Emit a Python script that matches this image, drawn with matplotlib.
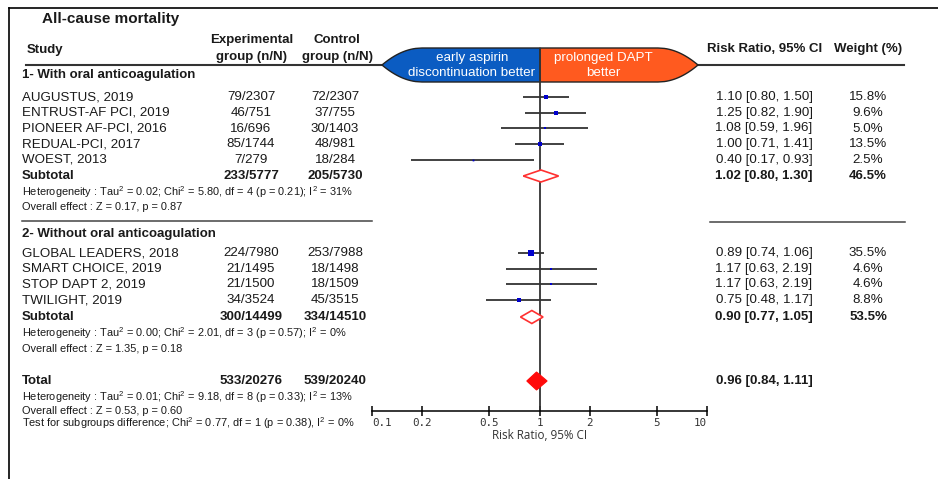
import numpy as np
import matplotlib
matplotlib.use('Agg')
import matplotlib.pyplot as plt
from matplotlib.ticker import NullLocator

plt.rcParams['font.family'] = 'Liberation Sans'
plt.rcParams['mathtext.fontset'] = 'custom'
plt.rcParams['mathtext.rm'] = 'Liberation Sans'
plt.rcParams['mathtext.it'] = 'Liberation Sans:italic'
plt.rcParams['mathtext.bf'] = 'Liberation Sans:bold'

# data
studies1 = ['AUGUSTUS, 2019', 'ENTRUST-AF PCI, 2019', 'PIONEER AF-PCI, 2016',
            'REDUAL-PCI, 2017', 'WOEST, 2013']
exp1 = ['79/2307', '46/751', '16/696', '85/1744', '7/279']
ctl1 = ['72/2307', '37/755', '30/1403', '48/981', '18/284']
rr1 = [1.10, 1.25, 1.08, 1.00, 0.40]
lo1 = [0.80, 0.82, 0.59, 0.71, 0.17]
hi1 = [1.50, 1.90, 1.96, 1.41, 0.93]
w1 = [15.8, 9.6, 5.0, 13.5, 2.5]

studies2 = ['GLOBAL LEADERS, 2018', 'SMART CHOICE, 2019', 'STOP DAPT 2, 2019',
            'TWILIGHT, 2019']
exp2 = ['224/7980', '21/1495', '21/1500', '34/3524']
ctl2 = ['253/7988', '18/1498', '18/1509', '45/3515']
rr2 = [0.89, 1.17, 1.17, 0.75]
lo2 = [0.74, 0.63, 0.63, 0.48]
hi2 = [1.06, 2.19, 2.19, 1.17]
w2 = [35.5, 4.6, 4.6, 8.8]

# subtotal 1, subtotal 2, total
pooled_exp = ['233/5777', '300/14499', '533/20276']
pooled_ctl = ['205/5730', '334/14510', '539/20240']
pooled_rr = [1.02, 0.90, 0.96]
pooled_lo = [0.80, 0.77, 0.84]
pooled_hi = [1.30, 1.05, 1.11]
pooled_w = ['46.5%', '53.5%', '']

het_texts = [
    'Heterogeneity : Tau$^2$ = 0.02; Chi$^2$ = 5.80, df = 4 (p = 0.21); I$^2$ = 31%',
    'Heterogeneity : Tau$^2$ = 0.00; Chi$^2$ = 2.01, df = 3 (p = 0.57); I$^2$ = 0%',
    'Heterogeneity : Tau$^2$ = 0.01; Chi$^2$ = 9.18, df = 8 (p = 0.33); I$^2$ = 13%',
]
eff_texts = ['Overall effect : Z = 0.17, p = 0.87',
             'Overall effect : Z = 1.35, p = 0.18',
             'Overall effect : Z = 0.53, p = 0.60']
test_text = 'Test for subgroups difference; Chi$^2$ = 0.77, df = 1 (p = 0.38), I$^2$ = 0%'

ticks = [0.1, 0.2, 0.5, 1, 2, 5, 10]
tick_labels = ['0.1', '0.2', '0.5', '1', '2', '5', '10']

# layout (pixel rows)
y1 = 97 + 15.75 * np.arange(len(studies1))
y2 = 253 + 15.7 * np.arange(len(studies2))
ysub = [176, 317, 381]
xs_name, xs_exp, xs_ctl, xs_rr, xs_w = 22, 251, 335, 764, 868
txt = '#1a1a1a'
fs = 9.6
fs_small = 7.9

fig = plt.figure(figsize=(9.38, 4.79), dpi=100)
bg = fig.add_axes([0, 0, 1, 1])
bg.set_xlim(0, 938)
bg.set_ylim(479, 0)
bg.axis('off')

# frame
bg.plot([9, 938], [8, 8], color='black', lw=1.2)
bg.plot([9, 9], [8, 479], color='black', lw=1.2)

# header
bg.text(42, 19, 'All-cause mortality', fontsize=11, fontweight='bold', va='center', color=txt)
bg.text(27, 50, 'Study', fontsize=9.5, fontweight='bold', va='center', color=txt)
bg.text(252, 40, 'Experimental', fontsize=9.5, fontweight='bold', va='center', ha='center', color=txt)
bg.text(252, 57, 'group (n/N)', fontsize=9.5, fontweight='bold', va='center', ha='center', color=txt)
bg.text(337, 40, 'Control', fontsize=9.5, fontweight='bold', va='center', ha='center', color=txt)
bg.text(337, 57, 'group (n/N)', fontsize=9.5, fontweight='bold', va='center', ha='center', color=txt)
bg.text(707, 49, 'Risk Ratio, 95% CI', fontsize=9.5, fontweight='bold', va='center', color=txt)
bg.text(834, 49, 'Weight (%)', fontsize=9.5, fontweight='bold', va='center', color=txt)
bg.plot([26, 904], [65, 65], color='#333333', lw=1.5, zorder=1)

# banner
L, h, yc = 40, 17, 65
u = np.linspace(0, 1, 40)
off = L * (1 - np.sqrt(1 - u))
xl_up = 382 + off
xr_up = 698 - off
left_x = np.concatenate([xl_up, [540, 540], xl_up[::-1]])
left_y = np.concatenate([yc - h * u, [yc - h, yc + h], yc + h * u[::-1]])
right_x = np.concatenate([xr_up, [540, 540], xr_up[::-1]])
right_y = left_y
bg.fill(left_x, left_y, facecolor='#0b5cc2', edgecolor='#222222', lw=1, zorder=3)
bg.fill(right_x, right_y, facecolor='#ff5a1f', edgecolor='#222222', lw=1, zorder=3)
bg.text(472, 57.5, 'early aspirin', color='white', fontsize=fs,
        ha='center', va='center', zorder=4)
bg.text(472, 73, 'discontinuation better', color='white', fontsize=fs,
        ha='center', va='center', zorder=4)
bg.text(603, 57.5, 'prolonged DAPT', color='white', fontsize=fs,
        ha='center', va='center', zorder=4)
bg.text(603, 73, 'better', color='white', fontsize=fs,
        ha='center', va='center', zorder=4)

# group labels
bg.text(xs_name, 75, '1- With oral anticoagulation', fontsize=9.5, fontweight='bold', va='center', color=txt)
bg.text(xs_name, 234, '2- Without oral anticoagulation', fontsize=9.5, fontweight='bold', va='center', color=txt)


def study_rows(names, ex, ct, rr, lo, hi, w, ys):
    for i in range(len(names)):
        y = ys[i]
        bg.text(xs_name, y, names[i], fontsize=fs, va='center', color=txt)
        bg.text(xs_exp, y, ex[i], fontsize=fs, va='center', ha='center', color=txt)
        bg.text(xs_ctl, y, ct[i], fontsize=fs, va='center', ha='center', color=txt)
        bg.text(xs_rr, y, f'{rr[i]:.2f} [{lo[i]:.2f}, {hi[i]:.2f}]', fontsize=fs,
                va='center', ha='center', color=txt)
        bg.text(xs_w, y, f'{w[i]:.1f}%', fontsize=fs, va='center', ha='center', color=txt)


study_rows(studies1, exp1, ctl1, rr1, lo1, hi1, w1, y1)
study_rows(studies2, exp2, ctl2, rr2, lo2, hi2, w2, y2)

labels = ['Subtotal', 'Subtotal', 'Total']
for i in range(3):
    y = ysub[i]
    bg.text(xs_name, y, labels[i], fontsize=9.5, fontweight='bold', va='center', color=txt)
    bg.text(xs_exp, y, pooled_exp[i], fontsize=9.5, fontweight='bold', va='center', ha='center', color=txt)
    bg.text(xs_ctl, y, pooled_ctl[i], fontsize=9.5, fontweight='bold', va='center', ha='center', color=txt)
    bg.text(xs_rr, y, f'{pooled_rr[i]:.2f} [{pooled_lo[i]:.2f}, {pooled_hi[i]:.2f}]',
            fontsize=9.5, fontweight='bold', va='center', ha='center', color=txt)
    bg.text(xs_w, y, pooled_w[i], fontsize=9.5, fontweight='bold', va='center', ha='center', color=txt)
    bg.text(xs_name, y + 16.5, het_texts[i], fontsize=fs_small, va='center', color=txt)
    bg.text(xs_name, y + 31.5 + (-1.5 if i == 2 else 0), eff_texts[i], fontsize=fs_small, va='center', color=txt)
bg.text(xs_name, 423, test_text, fontsize=fs_small, va='center', color=txt)

# separators
bg.plot([22, 372], [221, 221], color='#444444', lw=1.1)
bg.plot([710, 905], [222, 222], color='#444444', lw=1.1)

# forest axes
ax = fig.add_axes([372 / 938, (479 - 411) / 479, 335 / 938, (411 - 40) / 479])
ax.patch.set_alpha(0)
ax.set_xscale('log')
ax.set_xlim(0.1, 10)
ax.set_ylim(411, 40)
for s in ['top', 'left', 'right']:
    ax.spines[s].set_visible(False)
ax.spines['bottom'].set_linewidth(1.1)
ax.set_yticks([])
ax.xaxis.set_minor_locator(NullLocator())
ax.set_xticks(ticks)
ax.set_xticklabels(tick_labels, fontfamily='DejaVu Sans Mono', fontsize=7.8, color='#333333')
ax.tick_params(axis='x', direction='inout', length=7, width=1.1, pad=1.5)
tl = ax.get_xticklabels()
tl[0].set_ha('left')
tl[-1].set_ha('right')
ax.set_xlabel('Risk Ratio, 95% CI', fontfamily='Open Sans', fontsize=8.4, color='#333333', labelpad=0.5)

ax.vlines(1, 48, 411, color='#333333', lw=1.3, zorder=2)

for rr, lo, hi, w, ys in [(rr1, lo1, hi1, w1, y1), (rr2, lo2, hi2, w2, y2)]:
    ax.hlines(ys, lo, hi, color='#333333', lw=1.3, zorder=3)
    for i in range(len(rr)):
        ax.plot(rr[i], ys[i], marker='s', color='#0000cc', ms=0.8 * np.sqrt(w[i]),
                mew=0, zorder=4)

dh = [6, 6.5, 9]
for i in range(3):
    xs = [pooled_lo[i], pooled_rr[i], pooled_hi[i], pooled_rr[i]]
    ys = [ysub[i], ysub[i] - dh[i], ysub[i], ysub[i] + dh[i]]
    if i < 2:
        ax.fill(xs, ys, facecolor='white', edgecolor='#ff3030', lw=1.2, zorder=4)
    else:
        ax.fill(xs, ys, facecolor='#ff0a0a', edgecolor='#ff0a0a', lw=0.8, zorder=4)

fig.savefig('out.png', dpi=100)
